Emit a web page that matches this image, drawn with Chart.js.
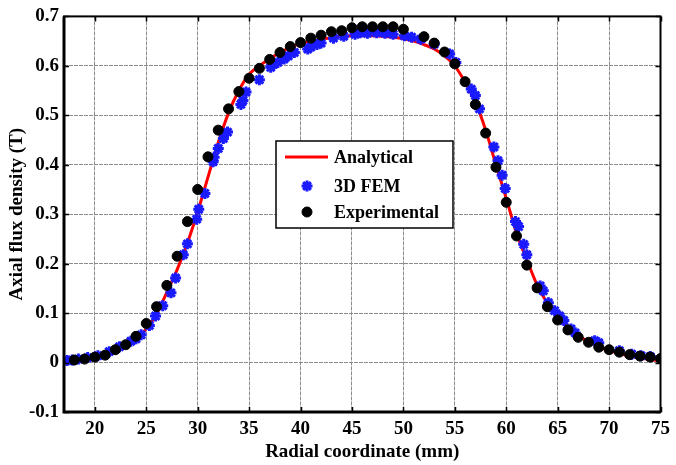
<!DOCTYPE html>
<html>
<head>
<meta charset="utf-8">
<script src="https://cdn.jsdelivr.net/npm/chart.js@4.4.1/dist/chart.umd.min.js"></script>
<style>
    html, body { margin: 0; padding: 0; background: #fff; }
    #wrap { width: 676px; height: 465px; }
</style>
</head>
<body>
<div id="wrap"><canvas id="fluxChart" width="676" height="465"></canvas></div>
<script>
// -----------------------------
// DATA
// -----------------------------
const xTicks = [20, 25, 30, 35, 40, 45, 50, 55, 60, 65, 70, 75];
const yTicks = [-0.1, 0, 0.1, 0.2, 0.3, 0.4, 0.5, 0.6, 0.7];
const yTickLabels = ["-0.1", "0", "0.1", "0.2", "0.3", "0.4", "0.5", "0.6", "0.7"];

// analytical curve, every 1 mm
const analyticalX = [17, 18, 19, 20, 21, 22, 23, 24, 25, 26, 27, 28, 29, 30, 31, 32, 33, 34, 35, 36,
    37, 38, 39, 40, 41, 42, 43, 44, 45, 46, 47, 48, 49, 50, 51, 52, 53, 54, 55, 56,
    57, 58, 59, 60, 61, 62, 63, 64, 65, 66, 67, 68, 69, 70, 71, 72, 73, 74, 75];
const analyticalY = [0.003, 0.005, 0.008, 0.011, 0.016, 0.023, 0.033, 0.047, 0.068, 0.098,
    0.142, 0.188, 0.242, 0.305, 0.375, 0.445, 0.505, 0.550, 0.583, 0.600,
    0.614, 0.627, 0.637, 0.645, 0.650, 0.654, 0.657, 0.660, 0.661, 0.661,
    0.661, 0.660, 0.658, 0.655, 0.650, 0.643, 0.634, 0.620, 0.600, 0.567,
    0.527, 0.470, 0.400, 0.332, 0.262, 0.208, 0.157, 0.120, 0.091, 0.070,
    0.054, 0.042, 0.032, 0.024, 0.018, 0.013, 0.009, 0.006, 0.003];

const femX = [17.3, 17.8, 18.4, 19.3, 20.3, 21.4, 22.4, 23.5, 24.0, 24.5, 25.3, 25.9, 26.6, 27.4,
    27.85, 28.6, 29.0, 29.9, 30.1, 30.7, 31.5, 31.6, 32.0, 32.5, 32.9, 34.2, 34.4, 34.7,
    36.0, 37.1, 37.4, 37.8, 38.4, 38.8, 39.4, 40.7, 41.0, 41.6, 42.0, 43.2, 44.2, 45.3,
    45.8, 46.5, 47.4, 48.2, 49.0, 50.1, 50.8, 51.7, 53.0, 54.5, 55.1, 56.6, 57.0, 57.4,
    58.8, 59.2, 59.6, 59.9, 60.9, 61.2, 61.7, 62.0, 63.3, 63.6, 64.1, 64.7, 65.2, 65.6,
    66.3, 66.7, 68.6, 69.0, 71.0, 72.2, 73.1, 74.0];
const femY = [0.004, 0.005, 0.007, 0.010, 0.014, 0.022, 0.032, 0.043, 0.048, 0.056, 0.075, 0.094, 0.115, 0.141,
    0.171, 0.218, 0.240, 0.290, 0.310, 0.342, 0.406, 0.415, 0.433, 0.453, 0.466, 0.522, 0.530, 0.547,
    0.572, 0.597, 0.603, 0.607, 0.614, 0.620, 0.627, 0.634, 0.638, 0.643, 0.646, 0.656, 0.660, 0.664,
    0.667, 0.666, 0.667, 0.666, 0.664, 0.661, 0.658, 0.654, 0.644, 0.624, 0.607, 0.553, 0.540, 0.513,
    0.436, 0.408, 0.379, 0.352, 0.285, 0.275, 0.239, 0.218, 0.155, 0.145, 0.121, 0.105, 0.094, 0.085,
    0.068, 0.060, 0.044, 0.040, 0.024, 0.017, 0.014, 0.012];

const expX = [18, 19, 20, 21, 22, 23, 24, 25, 26, 27, 28, 29, 30, 31, 32, 33, 34, 35, 36, 37,
    38, 39, 40, 41, 42, 43, 44, 45, 46, 47, 48, 49, 50, 52, 53, 54, 55, 56, 57, 58,
    59, 60, 61, 62, 63, 64, 65, 66, 67, 68, 69, 70, 71, 72, 73, 74, 75];
const expY = [0.005, 0.007, 0.011, 0.015, 0.026, 0.036, 0.053, 0.079, 0.113, 0.156,
    0.215, 0.285, 0.350, 0.416, 0.470, 0.513, 0.548, 0.575, 0.595, 0.613,
    0.627, 0.639, 0.647, 0.656, 0.662, 0.669, 0.671, 0.677, 0.679, 0.679,
    0.679, 0.679, 0.674, 0.659, 0.646, 0.628, 0.604, 0.568, 0.522, 0.464,
    0.395, 0.324, 0.256, 0.197, 0.151, 0.113, 0.086, 0.066, 0.051, 0.041,
    0.031, 0.026, 0.021, 0.016, 0.013, 0.011, 0.008];

const seriesNames = ["Analytical", "3D FEM", "Experimental"];

// -----------------------------
// HELPERS
// -----------------------------
const FONT = "'Liberation Serif', 'Times New Roman', serif";

function toPoints(xs, ys) {
    return xs.map((x, i) => ({ x: x, y: ys[i] }));
}

// frame + inward ticks on all four sides
const framePlugin = {
    id: "frame",
    afterDraw(chart) {
        const { ctx, chartArea } = chart;
        const { left, right, top, bottom } = chartArea;
        const xs = chart.scales.x;
        const ys = chart.scales.y;

        ctx.save();
        ctx.strokeStyle = "#000";
        ctx.lineWidth = 1.5;
        ctx.beginPath();
        xTicks.forEach(v => {
            const p = Math.round(xs.getPixelForValue(v)) + 0.5;
            ctx.moveTo(p, bottom); ctx.lineTo(p, bottom - 5);
            ctx.moveTo(p, top); ctx.lineTo(p, top + 5);
        });
        yTicks.forEach(v => {
            const p = Math.round(ys.getPixelForValue(v)) + 0.5;
            ctx.moveTo(left, p); ctx.lineTo(left + 5, p);
            ctx.moveTo(right, p); ctx.lineTo(right - 5, p);
        });
        ctx.stroke();

        ctx.lineWidth = 2;
        ctx.strokeRect(left, top, right - left, bottom - top);
        ctx.lineWidth = 3;
        ctx.beginPath();
        ctx.moveTo(left, top);
        ctx.lineTo(left, bottom);
        ctx.lineTo(right, bottom);
        ctx.stroke();
        ctx.restore();
    }
};

// legend box inside the plot
const boxLegendPlugin = {
    id: "boxLegend",
    afterDraw(chart) {
        const { ctx } = chart;
        const box = { x: 276, y: 141, w: 177, h: 87 };
        const rows = [157, 186, 212];

        ctx.save();
        ctx.fillStyle = "#fff";
        ctx.fillRect(box.x, box.y, box.w, box.h);
        ctx.strokeStyle = "#000";
        ctx.lineWidth = 1.5;
        ctx.strokeRect(box.x, box.y, box.w, box.h);

        chart.data.datasets.forEach((ds, i) => {
            const y = rows[i];
            if (i === 0) {
                ctx.strokeStyle = ds.borderColor;
                ctx.lineWidth = 3;
                ctx.beginPath();
                ctx.moveTo(285, y);
                ctx.lineTo(328, y);
                ctx.stroke();
            } else {
                ctx.fillStyle = ds.backgroundColor;
                ctx.strokeStyle = ds.borderColor;
                ctx.lineWidth = ds.pointBorderWidth;
                Chart.helpers.drawPoint(ctx, {
                    pointStyle: ds.pointStyle,
                    radius: ds.pointRadius,
                    borderWidth: ds.pointBorderWidth
                }, 307, y);
            }
            ctx.fillStyle = "#000";
            ctx.font = "bold 18px " + FONT;
            ctx.textBaseline = "middle";
            ctx.textAlign = "left";
            ctx.fillText(ds.label, 334, y + 1);
        });
        ctx.restore();
    }
};

// -----------------------------
// CHART
// -----------------------------
function buildChart() {

    const ctx = document.getElementById("fluxChart").getContext("2d");

    const gridOpts = { color: "#8c8c8c", lineWidth: 1, drawTicks: false };
    const borderOpts = { display: false, dash: [4, 1] };
    const tickFont = { family: FONT, size: 19, weight: "bold" };

    return new Chart(ctx, {
        type: "scatter",
        data: {
            datasets: [
                {
                    type: "line",
                    label: seriesNames[0],
                    data: toPoints(analyticalX, analyticalY),
                    borderColor: "#ff0000",
                    backgroundColor: "#ff0000",
                    borderWidth: 3,
                    pointRadius: 0,
                    cubicInterpolationMode: "monotone",
                    order: 3
                },
                {
                    label: seriesNames[1],
                    data: toPoints(femX, femY),
                    pointStyle: "star",
                    pointRadius: 5.5,
                    pointBorderWidth: 3,
                    borderColor: "#1a1aff",
                    backgroundColor: "#1a1aff",
                    order: 2
                },
                {
                    label: seriesNames[2],
                    data: toPoints(expX, expY),
                    pointStyle: "circle",
                    pointRadius: 5,
                    pointBorderWidth: 1,
                    borderColor: "#000",
                    backgroundColor: "#000",
                    order: 1
                }
            ]
        },
        options: {
            responsive: false,
            animation: false,
            layout: { padding: { top: 14, right: 9, left: 0, bottom: 0 } },
            plugins: {
                legend: { display: false },
                tooltip: { enabled: false }
            },
            scales: {
                x: {
                    type: "linear",
                    min: 17,
                    max: 75,
                    afterBuildTicks: s => { s.ticks = xTicks.map(v => ({ value: v })); },
                    afterFit: s => { s.height = 53; },
                    grid: gridOpts,
                    border: borderOpts,
                    ticks: {
                        color: "#000",
                        padding: 6,
                        maxRotation: 0,
                        font: tickFont
                    },
                    title: {
                        display: true,
                        text: "Radial coordinate (mm)",
                        color: "#000",
                        padding: { top: 0, bottom: 2 },
                        font: tickFont
                    }
                },
                y: {
                    min: -0.1,
                    max: 0.7,
                    afterBuildTicks: s => { s.ticks = yTicks.map(v => ({ value: v })); },
                    afterFit: s => { s.width = 64; },
                    grid: gridOpts,
                    border: borderOpts,
                    ticks: {
                        color: "#000",
                        padding: 5,
                        font: tickFont,
                        callback: v => yTickLabels[yTicks.findIndex(t => Math.abs(t - v) < 1e-9)]
                    },
                    title: {
                        display: true,
                        text: "Axial flux density (T)",
                        color: "#000",
                        padding: { top: 6, bottom: 0 },
                        font: tickFont
                    }
                }
            }
        },
        plugins: [framePlugin, boxLegendPlugin]
    });
}

// -----------------------------
// START
// -----------------------------
buildChart();
</script>
</body>
</html>
